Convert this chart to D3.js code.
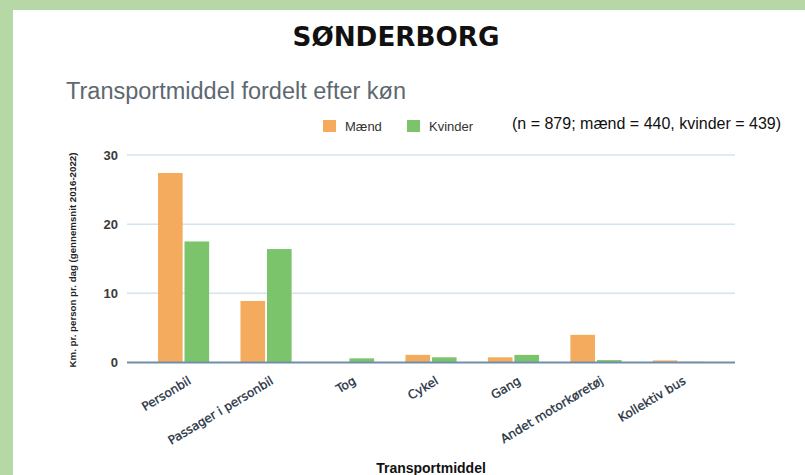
<!DOCTYPE html>
<html>
<head>
<meta charset="utf-8">
<script src="https://cdn.jsdelivr.net/npm/d3@7"></script>
<style>
  body { margin: 0; background: #b6d8a6; }
  svg { display: block; }
</style>
</head>
<body>
<div id="chart"></div>
<script>
// Data
const categories = ["Personbil", "Passager i personbil", "Tog", "Cykel", "Gang", "Andet motorkøretøj", "Kollektiv bus"];
const seriesNames = ["Mænd", "Kvinder"];
const maendValues = [27.4, 8.9, 0, 1.1, 0.75, 4.0, 0.3];
const kvinderValues = [17.5, 16.4, 0.6, 0.75, 1.1, 0.35, 0.1];
const yTicks = [0, 10, 20, 30];

// Set up the dimensions
const W = 805, H = 475;
const plot = {left: 127, right: 735, top: 155, bottom: 362.5};
const colors = ["#f5ab5e", "#7cc46c"];

const svg = d3.select("#chart")
    .append("svg")
    .attr("width", W)
    .attr("height", H);

// White panel inside the green frame
svg.append("rect")
    .attr("x", 13)
    .attr("y", 10)
    .attr("width", W - 13)
    .attr("height", H - 10)
    .attr("fill", "#ffffff");

// Heading
svg.append("text")
    .attr("x", 396)
    .attr("y", 46)
    .attr("text-anchor", "middle")
    .attr("font-family", "DejaVu Sans")
    .attr("font-weight", 700)
    .attr("font-size", "27px")
    .attr("textLength", 207)
    .attr("lengthAdjust", "spacingAndGlyphs")
    .attr("fill", "#111")
    .text("SØNDERBORG");

// Chart title
svg.append("text")
    .attr("x", 66)
    .attr("y", 99)
    .attr("font-family", "Liberation Sans, Arial")
    .attr("font-size", "23.5px")
    .attr("fill", "#5d6870")
    .text("Transportmiddel fordelt efter køn");

// Scales
const x0 = d3.scaleBand()
    .domain(categories)
    .range([plot.left, plot.right])
    .paddingInner(0.38)
    .paddingOuter(0.376);

const x1 = d3.scaleBand()
    .domain(seriesNames)
    .range([0, x0.bandwidth()])
    .paddingInner(0.07);

const y = d3.scaleLinear()
    .domain([0, 30])
    .range([plot.bottom, plot.top]);

// Gridlines
svg.append("g")
    .selectAll("line")
    .data(yTicks.filter(d => d > 0))
    .enter()
    .append("line")
    .attr("x1", plot.left)
    .attr("x2", plot.right)
    .attr("y1", d => y(d))
    .attr("y2", d => y(d))
    .attr("stroke", "#d3e3f0")
    .attr("stroke-width", 1.5);

// Y axis labels
svg.append("g")
    .attr("transform", `translate(${plot.left - 9},0)`)
    .call(d3.axisLeft(y).tickValues(yTicks).tickSize(0).tickPadding(0))
    .call(g => g.select(".domain").remove())
    .selectAll("text")
    .attr("font-family", "Liberation Sans, Arial")
    .attr("font-size", "13px")
    .attr("font-weight", 700)
    .attr("fill", "#3a3a3a");

// Bars
const rows = categories.map((c, i) => ({cat: c, values: [maendValues[i], kvinderValues[i]]}));

svg.append("g")
    .selectAll("g")
    .data(rows)
    .enter()
    .append("g")
    .attr("transform", d => `translate(${x0(d.cat)},0)`)
    .selectAll("rect")
    .data(d => d.values.map((v, j) => ({name: seriesNames[j], value: v, j: j})))
    .enter()
    .append("rect")
    .attr("x", d => x1(d.name))
    .attr("y", d => y(d.value))
    .attr("width", x1.bandwidth())
    .attr("height", d => y(0) - y(d.value))
    .attr("fill", d => colors[d.j]);

// Zero line
svg.append("line")
    .attr("x1", plot.left)
    .attr("x2", plot.right)
    .attr("y1", y(0))
    .attr("y2", y(0))
    .attr("stroke", "#6f8fa8")
    .attr("stroke-width", 1.8);

// X axis labels (rotated)
svg.append("g")
    .attr("transform", `translate(0,${y(0) + 17})`)
    .call(d3.axisBottom(x0).tickSize(0).tickPadding(0))
    .call(g => g.select(".domain").remove())
    .selectAll("text")
    .attr("font-family", "DejaVu Sans")
    .attr("font-size", "12px")
    .attr("fill", "#1f3142")
    .attr("stroke", "#1f3142")
    .attr("stroke-width", 0.3)
    .attr("text-anchor", "end")
    .attr("dy", "0.35em")
    .attr("transform", "translate(6,0) rotate(-31)");

// X axis title
svg.append("text")
    .attr("x", (plot.left + plot.right) / 2)
    .attr("y", 473)
    .attr("text-anchor", "middle")
    .attr("font-family", "Liberation Sans, Arial")
    .attr("font-size", "14px")
    .attr("font-weight", 700)
    .attr("fill", "#111")
    .text("Transportmiddel");

// Y axis title
svg.append("text")
    .attr("transform", `translate(76,260) rotate(-90)`)
    .attr("text-anchor", "middle")
    .attr("font-family", "Liberation Sans, Arial")
    .attr("font-size", "9.7px")
    .attr("font-weight", 700)
    .attr("fill", "#222")
    .text("Km. pr. person pr. dag (gennemsnit 2016-2022)");

// Legend
const legend = svg.append("g")
    .selectAll("g")
    .data(seriesNames)
    .enter()
    .append("g")
    .attr("transform", (d, i) => `translate(${323 + i * 84},120)`);

legend.append("rect")
    .attr("width", 13)
    .attr("height", 12)
    .attr("fill", (d, i) => colors[i]);

legend.append("text")
    .attr("x", 22)
    .attr("y", 11)
    .attr("font-family", "Liberation Sans, Arial")
    .attr("font-size", "13px")
    .attr("fill", "#333")
    .text(d => d);

// Sample size note
svg.append("text")
    .attr("x", 512)
    .attr("y", 128.5)
    .attr("font-family", "Liberation Sans, Arial")
    .attr("font-size", "16px")
    .attr("fill", "#111")
    .text("(n = 879; mænd = 440, kvinder = 439)");
</script>
</body>
</html>
